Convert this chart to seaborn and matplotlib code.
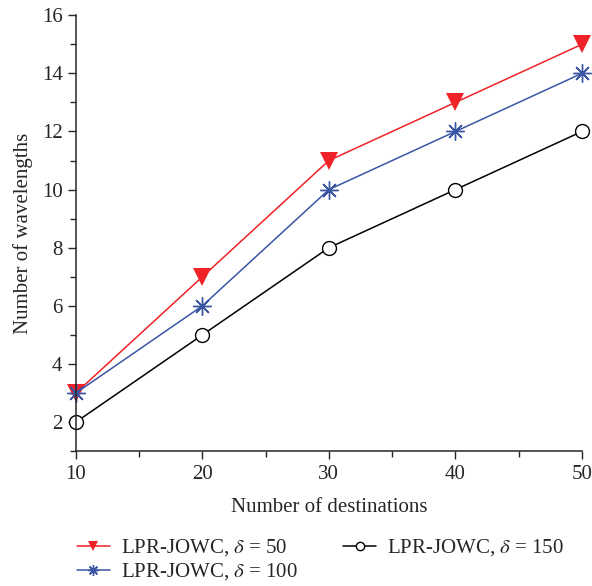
import matplotlib
matplotlib.use("Agg")
import matplotlib.pyplot as plt
import seaborn as sns
import pandas as pd
from matplotlib.ticker import MultipleLocator
from matplotlib.markers import MarkerStyle

destinations = [10, 20, 30, 40, 50]
wl_delta50 = [3, 7, 11, 13, 15]
wl_delta100 = [3, 6, 10, 12, 14]
wl_delta150 = [2, 5, 8, 10, 12]
labels = [r"LPR-JOWC, $\delta$ = 50", r"LPR-JOWC, $\delta$ = 100", r"LPR-JOWC, $\delta$ = 150"]

sns.set_theme(style="ticks")
plt.rcParams["font.family"] = ["Liberation Serif", "DejaVu Serif"]
plt.rcParams["mathtext.fontset"] = "stix"

df = pd.DataFrame({
    "dest": destinations * 3,
    "wl": wl_delta50 + wl_delta100 + wl_delta150,
    "series": [labels[0]] * 5 + [labels[1]] * 5 + [labels[2]] * 5,
})

fig = plt.figure(figsize=(5.92, 5.86), dpi=100)
ax = fig.add_axes([0.128, 0.230, 0.855, 0.744])

colors = {labels[0]: "#ee2227", labels[1]: "#3a55a4", labels[2]: "black"}

for lab in labels:
    sub = df[df["series"] == lab]
    kw = dict(color=colors[lab], linewidth=1.1, clip_on=False)
    if lab == labels[0]:
        kw.update(marker="v", markersize=13, markeredgewidth=0)
    elif lab == labels[1]:
        kw.update(marker=MarkerStyle((8, 2, 0)), markersize=13, markeredgewidth=1.0,
                  markeredgecolor=colors[lab])
    else:
        kw.update(marker="o", markersize=10, markerfacecolor="white",
                  markeredgecolor="black", markeredgewidth=1.0)
    sns.lineplot(data=sub, x="dest", y="wl", ax=ax, label=lab, **kw)

ax.set_xlim(10, 50)
ax.set_ylim(1, 16)
ax.xaxis.set_major_locator(MultipleLocator(10))
ax.xaxis.set_minor_locator(MultipleLocator(5))
ax.yaxis.set_major_locator(MultipleLocator(2))
ax.yaxis.set_minor_locator(MultipleLocator(1))
ax.tick_params(which="major", length=6, width=1, labelsize=15, direction="out")
ax.tick_params(which="minor", length=4, width=1, direction="out")
ax.tick_params(axis="x", pad=4)
for s in ["left", "bottom"]:
    ax.spines[s].set_linewidth(1.1)
sns.despine(ax=ax)

ax.set_xlabel("Number of destinations", fontsize=15, labelpad=10)
ax.set_ylabel("Number of wavelengths", fontsize=15, labelpad=6)

handles, labs = ax.get_legend_handles_labels()
ax.legend(handles, labs,
          loc="upper left", bbox_to_anchor=(-0.035, -0.155), ncol=2, frameon=False,
          fontsize=15, markerscale=0.6, handlelength=1.6, handletextpad=0.5,
          columnspacing=2.2, labelspacing=0.15)

fig.savefig("out.png", dpi=100)
